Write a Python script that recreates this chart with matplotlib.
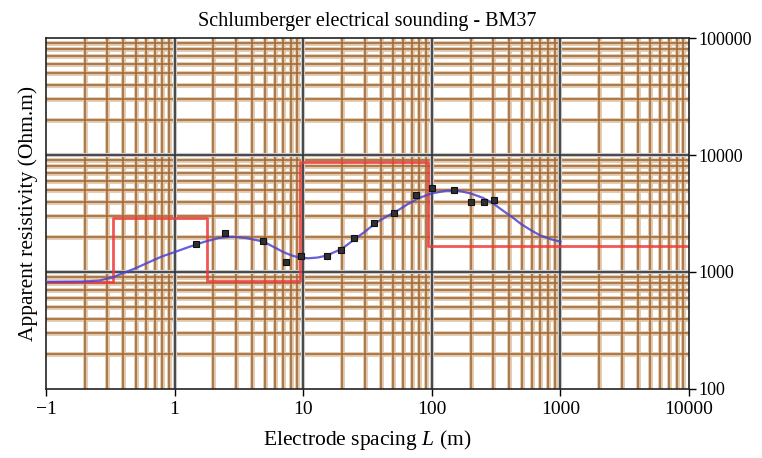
import numpy as np
import matplotlib
matplotlib.use("Agg")
import matplotlib.pyplot as plt

plt.rcParams['font.family'] = ['Liberation Serif', 'DejaVu Serif']
plt.rcParams['mathtext.fontset'] = 'custom'
plt.rcParams['mathtext.it'] = 'Liberation Serif:italic'
plt.rcParams['mathtext.rm'] = 'Liberation Serif'

# layered model (red steps): layer boundaries and resistivities
model_depth = [0.1, 0.33, 1.8, 9.5, 93, 10000]
model_rho = [825, 2900, 840, 8700, 1670]

# fitted curve (blue)
curve_x = [0.1, 0.2, 0.26, 0.33, 0.40, 0.5, 0.65, 0.8, 1.0, 1.3, 1.7, 2.2, 2.8, 3.6,
           4.9, 6.0, 7.0, 8.2, 9.4, 11, 13, 15.2, 20, 25, 30, 37, 45, 53, 65, 80,
           100, 130, 160, 200, 250, 300, 350, 420, 500, 600, 700, 850, 1000]
curve_y = [826, 830, 845, 900, 980, 1080, 1230, 1360, 1480, 1640, 1810, 1950, 2000, 1950,
           1820, 1620, 1480, 1380, 1325, 1310, 1330, 1380, 1580, 1900, 2200, 2650, 3000, 3300, 3800, 4300,
           4700, 4950, 4950, 4700, 4300, 3850, 3400, 2950, 2550, 2250, 2050, 1900, 1815]

# measured points
obs_x = [1.46, 2.46, 4.85, 7.3, 9.6, 15.2, 19.6, 25, 35.4, 50.6, 75, 100, 150, 200, 255, 303]
obs_y = [1730, 2150, 1840, 1220, 1360, 1370, 1540, 1950, 2620, 3190, 4550, 5230, 5020, 3970, 3970, 4100]

xtick_vals = [0.1, 1, 10, 100, 1000, 10000]
xtick_labels = ['\u22121', '1', '10', '100', '1000', '10000']
ytick_vals = [100, 1000, 10000, 100000]
ytick_labels = ['100', '1000', '10000', '100000']

fig = plt.figure(figsize=(7.62, 4.58), dpi=100)
ax = fig.add_axes([0.0604, 0.1507, 0.8438, 0.7663])
ax.set_xscale('log')
ax.set_yscale('log')
ax.set_xlim(0.1, 10000)
ax.set_ylim(100, 100000)

# brown minor grid, black major grid
for d in [0.1, 1, 10, 100, 1000]:
    for m in range(2, 10):
        ax.axvline(d * m, color='#e0c6aa', lw=3.4, zorder=0.5)
        ax.axvline(d * m, color='#a06530', lw=1.1, zorder=0.6)
for d in [100, 1000, 10000]:
    for m in range(2, 10):
        ax.axhline(d * m, color='#e0c6aa', lw=3.4, zorder=0.5)
        ax.axhline(d * m, color='#a06530', lw=1.1, zorder=0.6)
for v in xtick_vals[1:-1]:
    ax.axvline(v, color='#c8c8c8', lw=3, zorder=0.7)
    ax.axvline(v, color='#333333', lw=1.2, zorder=0.8)
for v in ytick_vals[1:-1]:
    ax.axhline(v, color='#c8c8c8', lw=3, zorder=0.7)
    ax.axhline(v, color='#333333', lw=1.2, zorder=0.8)

ax.step(model_depth, model_rho + [model_rho[-1]], where='post',
        color='#f03a3a', lw=2, alpha=0.85, zorder=2)
ax.plot(curve_x, curve_y, color='#4a44d0', lw=1.6, alpha=0.85, zorder=3)
ax.plot(obs_x, obs_y, 's', ms=4, color='#303030', mec='#111111', mew=0.8, zorder=4)

ax.set_xticks(xtick_vals)
ax.set_xticklabels(xtick_labels)
ax.xaxis.set_minor_locator(matplotlib.ticker.NullLocator())
ax.yaxis.tick_right()
ax.yaxis.set_label_position('left')
ax.set_yticks(ytick_vals)
ax.set_yticklabels(ytick_labels)
ax.yaxis.set_minor_locator(matplotlib.ticker.NullLocator())
ax.tick_params(direction='out', length=5, width=1, pad=2)
ax.tick_params(axis='x', labelsize=14, pad=4)
ax.tick_params(axis='y', labelsize=13)

for s in ax.spines.values():
    s.set_linewidth(1.2)
    s.set_color('#222222')

ax.set_title('Schlumberger electrical sounding - BM37', fontsize=14.5, pad=9)
ax.set_xlabel('Electrode spacing $L$ (m)', fontsize=15.5, labelpad=7)
ax.set_ylabel('Apparent resistivity (Ohm.m)', fontsize=15.5, labelpad=6)

fig.savefig('out.png', dpi=100)
